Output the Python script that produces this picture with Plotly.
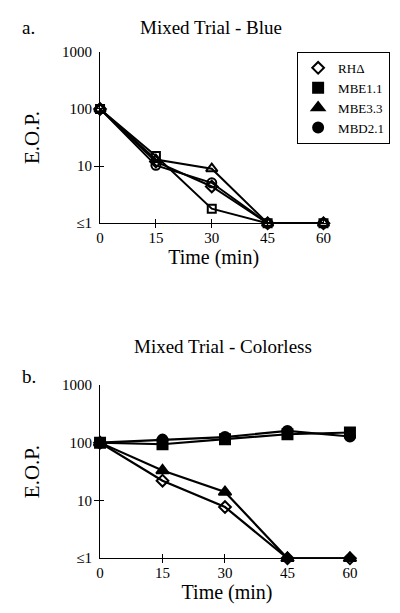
import plotly.graph_objects as go

W, H = 400, 613

times = [0, 15, 30, 45, 60]
strains = ["RHΔ", "MBE1.1", "MBE3.3", "MBD2.1"]
symbols = ["diamond", "square", "triangle-up", "circle"]

# Panel a: Mixed Trial - Blue (E.O.P.)
blue_rh = [100, 12, 4.4, 1, 1]
blue_mbe11 = [100, 15, 1.8, 1, 1]
blue_mbe33 = [100, 13, 9, 1, 1]
blue_mbd21 = [100, 10.3, 5.1, 1, 1]

# Panel b: Mixed Trial - Colorless (E.O.P.)
col_rh = [100, 22, 7.7, 1, 1]
col_mbe11 = [100, 94, 115, 140, 150]
col_mbe33 = [100, 33, 14, 1, 1]
col_mbd21 = [100, 113, 125, 160, 128]

y_tickvals = [1, 10, 100, 1000]
y_ticktext = ["≤1", "10", "100", "1000"]
x_tickvals = [0, 15, 30, 45, 60]
x_ticktext = ["0", "15", "30", "45", "60"]

FONT = "Liberation Serif, Times New Roman, serif"

fig = go.Figure()

blue = [blue_rh, blue_mbe11, blue_mbe33, blue_mbd21]
col = [col_rh, col_mbe11, col_mbe33, col_mbd21]
sizes_open = [9, 8, 10, 9]
sizes_fill = [9, 10, 11, 10]

# Panel a: open markers
for name, sym, ys, sz in zip(strains, symbols, blue, sizes_open):
    fig.add_trace(go.Scatter(
        x=times, y=ys, mode="lines+markers", name=name, showlegend=False,
        xaxis="x", yaxis="y", cliponaxis=False,
        line=dict(color="black", width=2),
        marker=dict(symbol=sym + "-open", size=sz, color="black",
                    line=dict(width=2, color="black")),
    ))

# Panel b: filled markers (RHΔ open diamond)
for name, sym, ys, sz in zip(strains, symbols, col, sizes_fill):
    s = "diamond-open" if sym == "diamond" else sym
    fig.add_trace(go.Scatter(
        x=times, y=ys, mode="lines+markers", name=name, showlegend=False,
        xaxis="x2", yaxis="y2", cliponaxis=False,
        line=dict(color="black", width=2.2),
        marker=dict(symbol=s, size=sz, color="black", line=dict(width=2, color="black")),
    ))

# Legend entries (filled symbols as in the key)
for name, sym, sz in zip(strains, symbols, sizes_fill):
    s = "diamond-open" if sym == "diamond" else sym
    fig.add_trace(go.Scatter(
        x=[None], y=[None], mode="markers", name=name, showlegend=True,
        xaxis="x", yaxis="y",
        marker=dict(symbol=s, size=sz, color="black", line=dict(width=2, color="black")),
    ))

def px_x(p):
    return p / W

def px_y(p):
    return (H - p) / H

xa_common = dict(
    range=[0, 61], showline=True, linecolor="black", linewidth=1.2,
    showgrid=False, zeroline=False, tickmode="array",
    tickvals=x_tickvals, ticktext=x_ticktext,
    ticks="inside", ticklen=4, tickcolor="black", tickwidth=1,
    minor=dict(tickmode="array", tickvals=[15, 30, 45], ticks="outside", ticklen=4,
               tickcolor="black", tickwidth=1),
    tickfont=dict(family=FONT, size=15, color="black"),
    ticklabelstandoff=1,
    title=dict(text="Time (min)", font=dict(family=FONT, size=20, color="black"), standoff=0),
)
ya_common = dict(
    type="log", range=[0, 3], showline=True, linecolor="black", linewidth=1.2,
    showgrid=False, zeroline=False, tickmode="array",
    tickvals=y_tickvals, ticktext=y_ticktext,
    ticks="inside", ticklen=4, tickcolor="black", tickwidth=1,
    minor=dict(tickmode="array", tickvals=y_tickvals, ticks="outside", ticklen=5,
               tickcolor="black", tickwidth=1),
    tickfont=dict(family=FONT, size=15, color="black"),
    ticklabelstandoff=4,
    title=dict(text="E.O.P.", font=dict(family=FONT, size=21, color="black"), standoff=16),
)

fig.update_layout(
    width=W, height=H, margin=dict(l=0, r=0, t=0, b=0),
    paper_bgcolor="white", plot_bgcolor="white",
    font=dict(family=FONT, color="black"),
    xaxis=dict(domain=[px_x(98), px_x(98 + 228 * 61 / 60)], anchor="y", **xa_common),
    yaxis=dict(domain=[px_y(221), px_y(45)], anchor="x", **ya_common),
    xaxis2=dict(domain=[px_x(98), px_x(98 + 255 * 61 / 60)], anchor="y2", **xa_common),
    yaxis2=dict(domain=[px_y(565), px_y(387)], anchor="x2", **ya_common),
    legend=dict(
        x=px_x(394), xanchor="right", y=px_y(45), yanchor="top",
        bordercolor="black", borderwidth=1, bgcolor="white",
        font=dict(family=FONT, size=13, color="black"),
        tracegroupgap=0, itemwidth=30,
    ),
    showlegend=True,
    annotations=[
        dict(text="Mixed Trial - Blue", x=px_x(211), y=px_y(20), xref="paper", yref="paper",
             showarrow=False, font=dict(family=FONT, size=19, color="black"), yanchor="middle"),
        dict(text="a.", x=px_x(16), y=px_y(20), xref="paper", yref="paper",
             showarrow=False, font=dict(family=FONT, size=19, color="black"), yanchor="middle"),
        dict(text="Mixed Trial - Colorless", x=px_x(223), y=px_y(348), xref="paper", yref="paper",
             showarrow=False, font=dict(family=FONT, size=19, color="black"), yanchor="middle"),
        dict(text="b.", x=px_x(16), y=px_y(378), xref="paper", yref="paper",
             showarrow=False, font=dict(family=FONT, size=19, color="black"), yanchor="middle"),
    ],
)

fig.write_html(
    "out.html", config={"displayModeBar": False},
    post_script="document.body.style.margin='0';document.body.style.overflow='hidden';",
)
